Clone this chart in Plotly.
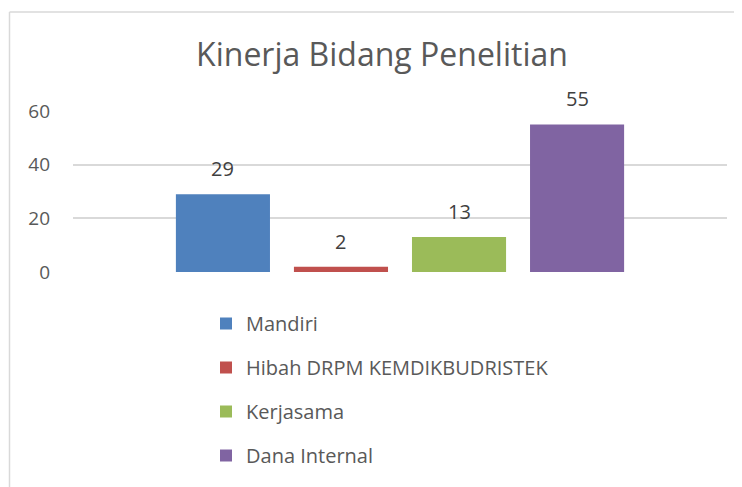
import plotly.graph_objects as go

categories = ["Kinerja Bidang Penelitian"]
series_names = ["Mandiri", "Hibah DRPM KEMDIKBUDRISTEK", "Kerjasama", "Dana Internal"]
series_values = [29, 2, 13, 55]
series_colors = ["#4F81BD", "#C0504D", "#9BBB59", "#8064A2"]
y_ticks = [0, 20, 40, 60]

OFF = 8  # page body margin
W, H = 742 - OFF, 487 - OFF
pl, pr, pt, pb = 73 - OFF, 727 - OFF, 111 - OFF, 272 - OFF
pw, ph = pr - pl, pb - pt
BARGAP, GROUPGAP = 0.278, 0.203
slot = pw * (1 - BARGAP) / len(series_names)

fig = go.Figure()
annotations = []
n = len(series_names)
for i, (name, val, col) in enumerate(zip(series_names, series_values, series_colors)):
    fig.add_trace(go.Bar(
        x=categories, y=[val], name=name, marker_color=col, marker_line_width=0,
        legendgroup=f"g{i}",
    ))
    annotations.append(dict(
        x=categories[0], y=val, xref="x", yref="y", text=str(val), showarrow=False,
        xanchor="center", yanchor="bottom", xshift=(i - (n - 1) / 2) * slot, yshift=10,
        font=dict(family="Open Sans", size=20, color="#404040"),
    ))

bx = 9.5 - OFF
by = 12 - OFF
fig.update_layout(
    width=W, height=H,
    margin=dict(l=pl, r=W - pr, t=pt, b=H - pb, autoexpand=False),
    paper_bgcolor="white", plot_bgcolor="white",
    barmode="group", bargap=BARGAP, bargroupgap=GROUPGAP,
    title=dict(text="Kinerja Bidang Penelitian", x=(382 - OFF) / W, xanchor="center",
               y=1 - (55 - OFF) / H, yanchor="middle", yref="container",
               font=dict(family="Open Sans", size=32, color="#595959")),
    xaxis=dict(showticklabels=False, showgrid=False, zeroline=False, showline=False, ticks=""),
    yaxis=dict(range=[0, 60], tickvals=y_ticks, showgrid=True, gridcolor="#d9d9d9", gridwidth=1.5,
               zeroline=False, showline=False, ticks="", ticklabelstandoff=22,
               tickfont=dict(family="Open Sans", size=19, color="#595959")),
    showlegend=True,
    legend=dict(orientation="v", x=(206 - OFF - pl) / pw, xanchor="left",
                y=-(304 - OFF - pb) / ph, yanchor="top", traceorder="grouped",
                tracegroupgap=15, font=dict(family="Open Sans", size=20, color="#595959"),
                itemwidth=30, bgcolor="rgba(0,0,0,0)"),
    annotations=annotations,
    shapes=[
        dict(type="line", xref="paper", yref="paper", x0=(bx - pl) / pw, x1=(W + 5 - pl) / pw,
             y0=(pb - by) / ph, y1=(pb - by) / ph, line=dict(color="#d9d9d9", width=1.5)),
        dict(type="line", xref="paper", yref="paper", x0=(bx - pl) / pw, x1=(bx - pl) / pw,
             y0=(pb - by) / ph, y1=-(H + 5 - pb) / ph, line=dict(color="#d9d9d9", width=1.5)),
    ],
)

fig.write_html("out.html")
